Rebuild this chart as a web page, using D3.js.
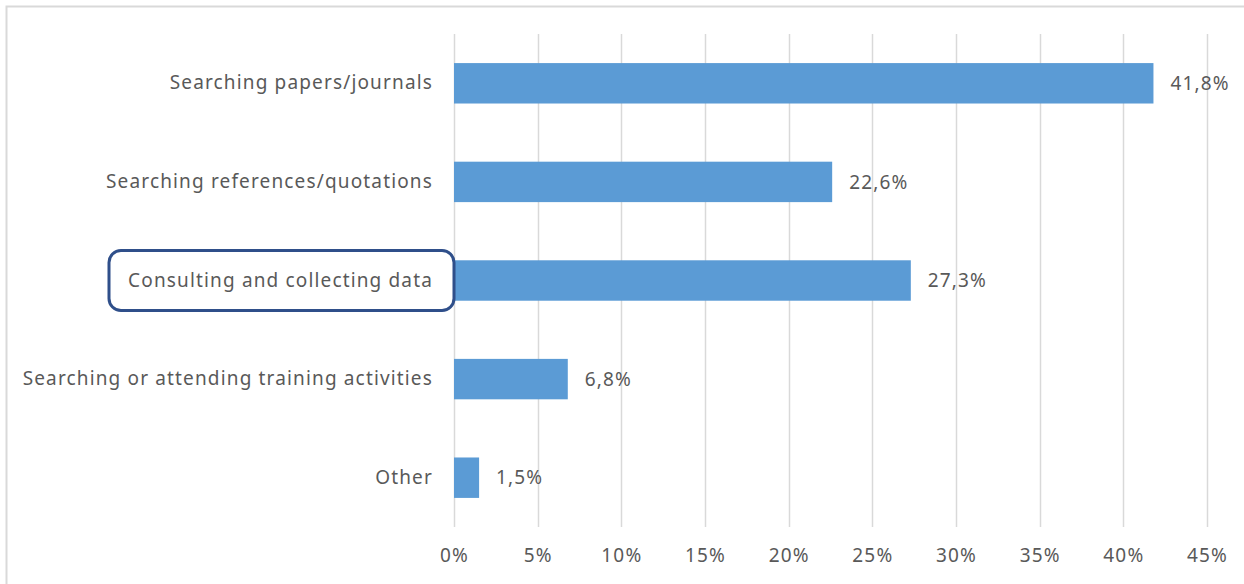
<!DOCTYPE html>
<html>
<head>
<meta charset="utf-8">
<script src="https://cdn.jsdelivr.net/npm/d3@7"></script>
<style>
  html, body { margin: 0; padding: 0; background: #fff; }
  svg text { font-family: "Noto Sans", sans-serif; fill: #595959; font-size: 19px; letter-spacing: 1.15px; }
</style>
</head>
<body>
<svg id="chart" width="1244" height="584"></svg>
<script>
const categories = [
  "Searching papers/journals",
  "Searching references/quotations",
  "Consulting and collecting data",
  "Searching or attending training activities",
  "Other"
];
const values = [41.8, 22.6, 27.3, 6.8, 1.5];
const valueLabels = ["41,8%", "22,6%", "27,3%", "6,8%", "1,5%"];
const tickValues = [0, 5, 10, 15, 20, 25, 30, 35, 40, 45];
const tickLabels = ["0%", "5%", "10%", "15%", "20%", "25%", "30%", "35%", "40%", "45%"];
const highlighted = "Consulting and collecting data";

const svg = d3.select("#chart");
const plotLeft = 454, plotRight = 1207, plotTop = 34, plotBottom = 527;

// outer frame
svg.append("rect")
  .attr("x", 6.5).attr("y", 6.5)
  .attr("width", 1260).attr("height", 600)
  .attr("fill", "none").attr("stroke", "#d9d9d9").attr("stroke-width", 2);

const x = d3.scaleLinear().domain([0, 45]).range([plotLeft, plotRight]);
const y = d3.scaleBand().domain(categories).range([plotTop, plotBottom])
  .paddingInner(0.59).paddingOuter(0.295);

// gridlines
svg.append("g").selectAll("line").data(tickValues).join("line")
  .attr("x1", d => Math.round(x(d)) + 0.5).attr("x2", d => Math.round(x(d)) + 0.5)
  .attr("y1", plotTop).attr("y2", plotBottom)
  .attr("stroke", "#d9d9d9").attr("stroke-width", 1.5);

// x axis labels
const xAxis = d3.axisBottom(x).tickValues(tickValues)
  .tickFormat((d, i) => tickLabels[i]).tickSize(0).tickPadding(22);
const gx = svg.append("g").attr("transform", `translate(0,${plotBottom})`).call(xAxis);
gx.select(".domain").remove();
gx.attr("font-size", null).attr("font-family", null);
gx.selectAll("text").attr("fill", "#595959");

// bars
svg.append("g").selectAll("rect").data(categories).join("rect")
  .attr("x", x(0))
  .attr("y", d => y(d))
  .attr("width", (d, i) => x(values[i]) - x(0))
  .attr("height", y.bandwidth())
  .attr("fill", "#5b9bd5");

// value labels
svg.append("g").selectAll("text").data(categories).join("text")
  .attr("x", (d, i) => x(values[i]) + 17)
  .attr("y", d => y(d) + y.bandwidth() / 2)
  .attr("dy", "0.35em")
  .text((d, i) => valueLabels[i]);

// category labels
const yAxis = d3.axisLeft(y).tickSize(0).tickPadding(21);
const gy = svg.append("g").attr("transform", `translate(${plotLeft},0)`).call(yAxis);
gy.select(".domain").remove();
gy.attr("font-size", null).attr("font-family", null);
gy.selectAll("text").attr("fill", "#595959");

// highlight box
const hy = y(highlighted) + y.bandwidth() / 2;
svg.append("rect")
  .attr("x", 109).attr("y", hy - 30)
  .attr("width", 345).attr("height", 60)
  .attr("rx", 12).attr("ry", 12)
  .attr("fill", "none").attr("stroke", "#2f4f8a").attr("stroke-width", 3);
</script>
</body>
</html>
